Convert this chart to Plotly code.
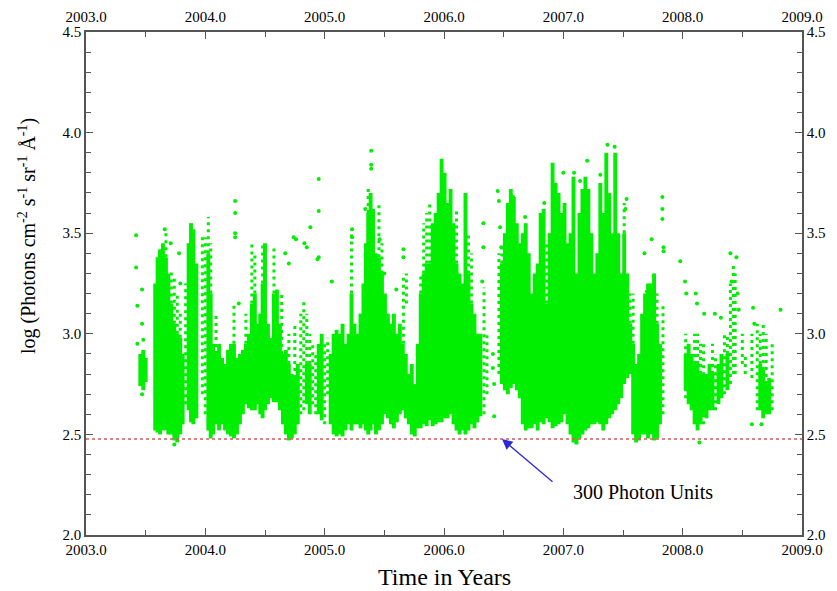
import math
import plotly.graph_objects as go

# ---------------- data ----------------
# Dense columns of observations: time (years), lower and upper log intensity
dense_t = [2003.455, 2003.48, 2003.50,
           2003.58, 2003.60, 2003.62, 2003.645, 2003.67, 2003.69, 2003.715, 2003.74, 2003.765, 2003.79, 2003.81,
           2003.86, 2003.88, 2003.90, 2003.925,
           2004.025, 2004.045, 2004.065,
           2004.09, 2004.115, 2004.14, 2004.165, 2004.19, 2004.215, 2004.24, 2004.265, 2004.29, 2004.315,
           2004.34, 2004.365, 2004.39, 2004.415, 2004.44, 2004.46,
           2004.48, 2004.50, 2004.525, 2004.55, 2004.575, 2004.60, 2004.625, 2004.65, 2004.675, 2004.70,
           2004.725, 2004.75, 2004.775,
           2004.85, 2004.875, 2004.95, 2004.975, 2005.05, 2005.075,
           2005.10, 2005.125, 2005.15, 2005.175, 2005.20, 2005.225, 2005.25, 2005.275, 2005.30, 2005.325,
           2005.345, 2005.365, 2005.385, 2005.405, 2005.43, 2005.455,
           2005.48, 2005.505, 2005.53, 2005.555, 2005.58, 2005.605, 2005.63, 2005.655, 2005.68, 2005.705,
           2005.73, 2005.755, 2005.78, 2005.805, 2005.83, 2005.855, 2005.88, 2005.905, 2005.93, 2005.955,
           2005.98, 2006.005, 2006.03, 2006.055, 2006.08, 2006.105, 2006.13, 2006.155, 2006.18, 2006.205,
           2006.23, 2006.255, 2006.28, 2006.305,
           2006.485, 2006.51, 2006.535, 2006.56, 2006.585, 2006.61, 2006.635, 2006.66, 2006.685, 2006.71,
           2006.735, 2006.76, 2006.785, 2006.81, 2006.835, 2006.86, 2006.885, 2006.91, 2006.935, 2006.96,
           2006.985, 2007.01, 2007.035, 2007.06, 2007.085, 2007.11, 2007.135, 2007.16, 2007.185, 2007.21,
           2007.235, 2007.26, 2007.285, 2007.31, 2007.335, 2007.36, 2007.385, 2007.41, 2007.435, 2007.46,
           2007.485, 2007.51, 2007.535, 2007.56, 2007.585, 2007.61, 2007.635, 2007.66, 2007.685, 2007.71,
           2007.735, 2007.76, 2007.785, 2007.81,
           2008.025, 2008.05, 2008.075, 2008.10, 2008.125, 2008.15, 2008.175, 2008.20, 2008.225, 2008.25,
           2008.30, 2008.325, 2008.375,
           2008.65, 2008.675, 2008.70, 2008.725]
dense_lo = [2.74, 2.72, 2.76,
            2.52, 2.51, 2.50, 2.52, 2.52, 2.50, 2.50, 2.47, 2.46, 2.50, 2.55,
            2.62, 2.56, 2.55, 2.58,
            2.52, 2.48, 2.50,
            2.55, 2.52, 2.55, 2.52, 2.50, 2.49, 2.48, 2.50, 2.55, 2.60,
            2.65, 2.63, 2.62, 2.62, 2.65, 2.60,
            2.58, 2.62, 2.65, 2.68, 2.66, 2.66, 2.62, 2.55, 2.50, 2.47,
            2.48, 2.50, 2.55,
            2.65, 2.60, 2.60, 2.57, 2.55, 2.50,
            2.49, 2.50, 2.49, 2.52, 2.55, 2.52, 2.55, 2.55, 2.53, 2.55,
            2.52, 2.50, 2.52, 2.55, 2.50, 2.52,
            2.55, 2.60, 2.58, 2.55, 2.53, 2.56, 2.60, 2.62, 2.58, 2.55,
            2.50, 2.49, 2.53, 2.53, 2.55, 2.54, 2.57, 2.54, 2.55, 2.56,
            2.56, 2.58, 2.58, 2.60, 2.55, 2.52, 2.50, 2.52, 2.50, 2.52,
            2.55, 2.53, 2.56, 2.59,
            2.75, 2.72, 2.70, 2.73, 2.75, 2.72, 2.68, 2.55, 2.52, 2.53,
            2.53, 2.55, 2.52, 2.56, 2.55, 2.58, 2.56, 2.53, 2.54, 2.55,
            2.56, 2.60, 2.55, 2.50, 2.46, 2.45, 2.48, 2.50, 2.52, 2.53,
            2.55, 2.55, 2.56, 2.55, 2.52, 2.55, 2.58, 2.60, 2.62, 2.65,
            2.68, 2.75, 2.78, 2.80, 2.50, 2.46, 2.47, 2.50, 2.50, 2.48,
            2.50, 2.47, 2.48, 2.55,
            2.72, 2.65, 2.62, 2.55, 2.52, 2.55, 2.60, 2.58, 2.62, 2.62,
            2.65, 2.68, 2.72,
            2.62, 2.58, 2.60, 2.60]
dense_hi = [2.90, 2.92, 2.88,
            3.25, 3.38, 3.42, 3.45, 3.38, 3.30, 3.15, 3.05, 3.00, 2.98, 2.90,
            3.45, 3.55, 3.52, 3.35,
            3.40, 3.20, 2.95,
            2.90, 2.95, 2.88, 2.85, 2.92, 2.95, 2.95, 2.88, 2.90, 2.92,
            2.95, 3.00, 3.15, 3.20, 3.05, 3.10,
            3.25, 3.45, 3.05, 2.98, 3.20, 3.22, 3.05, 2.90, 2.92, 2.85,
            2.80, 2.78, 2.85,
            2.85, 2.85, 2.95, 3.00, 2.90, 3.00,
            3.02, 3.00, 3.05, 2.95, 3.00, 3.20, 3.05, 3.00, 3.10, 3.25,
            3.45, 3.60, 3.70, 3.62, 3.40, 3.38,
            3.30, 3.20, 3.10, 3.05, 3.10, 3.00, 3.05, 2.95, 2.90, 2.80,
            2.85, 2.75, 2.95, 3.20, 3.30, 3.35, 3.35, 3.55, 3.60, 3.70,
            3.87, 3.80, 3.65, 3.72, 3.55, 3.35, 3.30, 3.25, 3.70, 3.30,
            3.15, 3.10, 3.00, 3.00,
            3.35, 3.50, 3.65, 3.72, 3.68, 3.55, 3.45, 3.50, 3.55, 3.40,
            3.20, 3.30, 3.35, 3.60, 3.62, 3.15, 3.50, 3.85, 3.75, 3.70,
            3.60, 3.65, 3.45, 3.50, 3.78, 3.30, 3.60, 3.72, 3.78, 3.72,
            3.50, 3.30, 3.40, 3.75, 3.60, 3.90, 3.70, 3.50, 3.90, 3.50,
            3.30, 3.50, 3.30, 3.05, 2.95, 2.85, 2.90, 3.10, 3.20, 3.25,
            3.25, 3.30, 3.05, 2.95,
            2.90, 2.95, 2.90, 2.85, 2.85, 2.80, 2.80, 2.80, 2.85, 2.80,
            2.85, 2.90, 2.90,
            2.85, 2.82, 2.75, 2.78]

# Thinly populated columns (individual dots stacked vertically)
sparse_t = [2003.67, 2003.715, 2003.74, 2003.765, 2003.79, 2003.835,
            2003.975, 2004.00, 2004.025, 2004.045,
            2004.09, 2004.24, 2004.34, 2004.39, 2004.415,
            2004.48, 2004.575, 2004.64, 2004.70, 2004.75,
            2004.80, 2004.825, 2004.85, 2004.875, 2004.90, 2004.925, 2005.00, 2005.025,
            2005.225, 2005.365, 2005.455,
            2005.48, 2005.66, 2005.685, 2005.805, 2005.83, 2005.855, 2005.88, 2006.105, 2006.205, 2006.23,
            2006.335, 2006.36,
            2006.46, 2006.485, 2006.86, 2007.51, 2007.56, 2007.585, 2007.785, 2007.835,
            2008.025, 2008.10, 2008.125, 2008.15, 2008.175, 2008.25, 2008.275, 2008.35, 2008.375,
            2008.40, 2008.425, 2008.44, 2008.50, 2008.525, 2008.58, 2008.625, 2008.65, 2008.675,
            2008.70, 2008.75]
sparse_lo = [3.38, 3.15, 3.05, 3.00, 2.98, 2.65,
             2.70, 2.60, 3.40, 3.20,
             2.90, 2.95, 2.95, 3.15, 3.20,
             3.25, 3.20, 2.90, 2.85, 2.78,
             2.60, 2.62, 2.85, 2.85, 2.65, 2.60, 2.55, 2.70,
             3.20, 3.60, 3.38,
             3.30, 2.95, 3.15, 3.20, 3.30, 3.35, 3.35, 3.35, 3.30, 3.15,
             2.60, 2.70,
             2.80, 3.35, 3.15, 3.50, 3.05, 2.95, 3.05, 2.60,
             2.68, 2.85, 2.85, 2.80, 2.55, 2.80, 2.62, 2.70, 2.90,
             2.75, 2.80, 2.80, 2.85, 2.80, 2.78, 2.62, 2.85, 2.82,
             2.75, 2.62]
sparse_hi = [3.50, 3.32, 3.28, 3.20, 3.10, 3.25,
             3.50, 3.48, 3.58, 3.45,
             3.10, 3.15, 3.10, 3.45, 3.40,
             3.45, 3.43, 3.20, 3.00, 3.05,
             3.10, 3.17, 3.10, 3.00, 2.95, 2.90, 2.95, 2.98,
             3.52, 3.72, 3.64,
             3.45, 3.30, 3.30, 3.30, 3.55, 3.60, 3.65, 3.62, 3.50, 3.40,
             3.23, 3.00,
             3.40, 3.45, 3.45, 3.65, 3.20, 3.20, 3.20, 3.15,
             3.00, 3.00, 3.00, 2.95, 2.95, 2.95, 2.90, 3.00, 3.00,
             3.25, 3.35, 3.30, 3.00, 2.90, 3.00, 3.05, 3.00, 3.05,
             3.00, 2.95]

# Isolated points
point_t = [2003.42, 2003.42, 2003.43, 2003.43, 2003.47, 2003.47, 2003.48, 2003.47, 2003.66, 2003.71,
           2003.78, 2003.79, 2003.74, 2004.25, 2004.25, 2004.25, 2004.25, 2004.28, 2004.67, 2004.70,
           2004.74, 2004.76, 2004.83, 2004.85, 2004.88, 2004.95, 2004.95, 2004.95, 2004.94, 2005.06,
           2005.23, 2005.23, 2005.39, 2005.39, 2005.39, 2005.34, 2005.46, 2005.50, 2005.60, 2005.66,
           2005.66, 2006.33, 2006.33, 2006.32, 2006.41, 2006.41, 2006.42, 2006.42, 2006.45, 2006.46,
           2006.47, 2006.48, 2006.48, 2006.58, 2006.68, 2006.84, 2007.00, 2007.09, 2007.14, 2007.20,
           2007.31, 2007.37, 2007.43, 2007.53, 2007.52, 2007.68, 2007.74, 2007.83, 2007.83, 2007.83,
           2007.84, 2007.84, 2007.70, 2007.98, 2008.02, 2008.03, 2008.11, 2008.12, 2008.18, 2008.27,
           2008.32, 2008.40, 2008.41, 2008.45, 2008.46, 2008.47, 2008.59, 2008.60, 2008.82, 2008.58,
           2008.14, 2008.66]
point_v = [3.49, 3.33, 3.14, 2.95, 3.22, 3.05, 2.97, 2.70, 3.52, 3.45,
           3.40, 3.25, 2.45, 3.66, 3.60, 3.50, 3.48, 3.15, 3.40, 3.35,
           3.48, 3.47, 3.45, 3.43, 3.53, 3.77, 3.61, 3.38, 3.37, 3.26,
           3.52, 3.48, 3.91, 3.84, 3.82, 3.62, 3.47, 3.30, 3.22, 3.42,
           3.38, 3.55, 3.43, 3.26, 2.90, 2.83, 2.75, 2.59, 3.71, 3.66,
           3.53, 3.43, 3.33, 3.68, 3.58, 3.65, 3.80, 3.80, 3.76, 3.86,
           3.79, 3.94, 3.93, 3.67, 3.62, 3.40, 3.47, 3.68, 3.62, 3.57,
           3.43, 3.41, 3.21, 3.36, 3.26, 3.20, 3.20, 3.15, 3.10, 3.10,
           3.08, 3.40, 3.26, 3.38, 3.20, 3.12, 3.13, 3.05, 3.12, 2.55,
           2.46, 2.55]

threshold_photons = 300
x_ticks = [2003.0, 2004.0, 2005.0, 2006.0, 2007.0, 2008.0, 2009.0]
y_ticks = [2.0, 2.5, 3.0, 3.5, 4.0, 4.5]

# ---------------- figure ----------------
GREEN = "rgb(0,238,0)"
SERIF = "Liberation Serif, Times New Roman, serif"


def segments(ts, los, his):
    xs, ys = [], []
    for t, lo, hi in zip(ts, los, his):
        xs += [t, t, None]
        ys += [lo, hi, None]
    return xs, ys


fig = go.Figure()

sx, sy = segments(sparse_t, sparse_lo, sparse_hi)
fig.add_trace(go.Scatter(x=sx, y=sy, mode="lines",
                         line=dict(color=GREEN, width=3, dash="3px,4px"),
                         hoverinfo="skip", showlegend=False))

dx, dy = segments(dense_t, dense_lo, dense_hi)
fig.add_trace(go.Scatter(x=dx, y=dy, mode="lines",
                         line=dict(color=GREEN, width=3.9),
                         hoverinfo="skip", showlegend=False))

fig.add_trace(go.Scatter(x=point_t, y=point_v, mode="markers",
                         marker=dict(color=GREEN, size=4),
                         hoverinfo="skip", showlegend=False))

# helper trace so the mirrored top/right axes are drawn
fig.add_trace(go.Scatter(x=[x_ticks[0]], y=[y_ticks[0]], xaxis="x2", yaxis="y2",
                         mode="markers", marker=dict(opacity=0), hoverinfo="skip",
                         showlegend=False))

thr = math.log10(threshold_photons)
fig.add_shape(type="line", xref="x", yref="y", x0=x_ticks[0], x1=x_ticks[-1], y0=thr, y1=thr,
              line=dict(color="rgb(208,92,92)", width=1.5, dash="3px,3px"))

axis_common = dict(showline=True, linecolor="#555555", linewidth=1.5, showgrid=False,
                   zeroline=False, ticks="inside", ticklen=7, tickwidth=1.2, tickcolor="#555555",
                   automargin=False,
                   tickfont=dict(family=SERIF, size=15, color="black"))

# the page body has an 8px margin, so the figure is sized to fit inside the window
fig.update_layout(
    width=829, height=583,
    margin=dict(l=78, r=35, t=24, b=56),
    paper_bgcolor="white", plot_bgcolor="white",
    xaxis=dict(range=[x_ticks[0], x_ticks[-1]], tickvals=x_ticks, tickformat=".1f",
               minor=dict(dtick=0.5, ticks="inside", ticklen=5, tickcolor="#555555"),
               **axis_common),
    xaxis2=dict(range=[x_ticks[0], x_ticks[-1]], tickvals=x_ticks, tickformat=".1f",
                overlaying="x", side="top", anchor="y", ticklabelstandoff=2,
                minor=dict(dtick=0.5, ticks="inside", ticklen=5, tickcolor="#555555"),
                **axis_common),
    yaxis=dict(range=[y_ticks[0], y_ticks[-1]], tickvals=y_ticks, tickformat=".1f",
               minor=dict(dtick=0.1, ticks="inside", ticklen=5, tickcolor="#555555"),
               **axis_common),
    yaxis2=dict(range=[y_ticks[0], y_ticks[-1]], tickvals=y_ticks, tickformat=".1f",
                overlaying="y", side="right", anchor="x",
                minor=dict(dtick=0.1, ticks="inside", ticklen=5, tickcolor="#555555"),
                **axis_common),
)

fig.add_annotation(text="Time in Years", xref="paper", yref="paper", x=0.5, y=-0.083,
                   xanchor="center", yanchor="middle", showarrow=False,
                   font=dict(family=SERIF, size=24, color="black"))
fig.add_annotation(text="log (Photons cm<sup>-2</sup> s<sup>-1</sup> sr<sup>-1</sup> Å<sup>-1</sup>)",
                   xref="paper", yref="paper", x=-0.082, y=0.595, textangle=-90,
                   xanchor="center", yanchor="middle", showarrow=False,
                   font=dict(family=SERIF, size=20, color="black"))
fig.add_annotation(text="300 Photon Units", xref="x", yref="y", x=2007.668, y=2.214,
                   xanchor="center", yanchor="middle", showarrow=False,
                   font=dict(family=SERIF, size=20, color="black"))
fig.add_annotation(text="", xref="x", yref="y", x=2006.486, y=thr, ax=52, ay=44,
                   showarrow=True, arrowhead=2, arrowsize=1.6, arrowwidth=1.3,
                   arrowcolor="#2a2ad0")

fig.write_html("out.html")
